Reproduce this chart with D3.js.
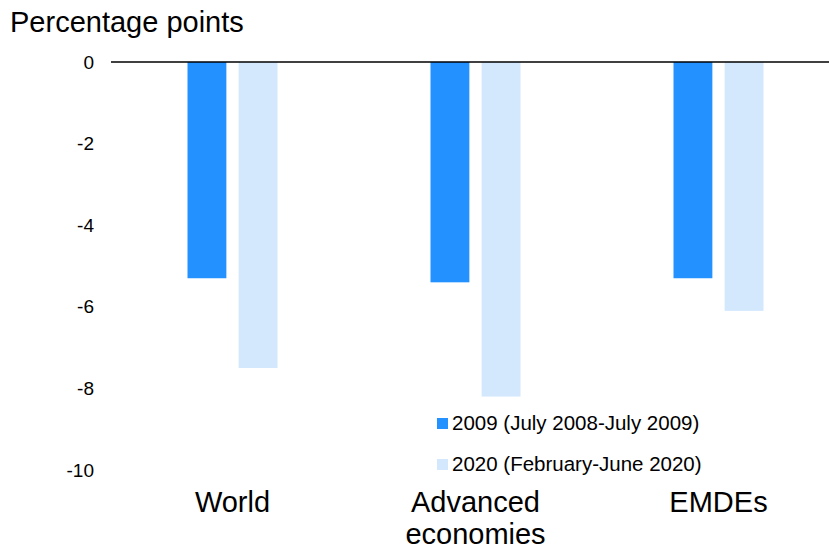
<!DOCTYPE html>
<html>
<head>
<meta charset="utf-8">
<script src="https://cdn.jsdelivr.net/npm/d3@7"></script>
<style>
  html, body { margin: 0; padding: 0; background: #fff; }
  svg { display: block; font-family: "Liberation Sans", Arial, sans-serif; }
</style>
</head>
<body>
<svg id="chart" width="829" height="550"></svg>
<script>
// Change in output (percentage points), by country group
const categories = [["World"], ["Advanced", "economies"], ["EMDEs"]];
const seriesNames = ["2009 (July 2008-July 2009)", "2020 (February-June 2020)"];
const values2009 = [-5.3, -5.4, -5.3];
const values2020 = [-7.5, -8.2, -6.1];
const yTicks = [0, -2, -4, -6, -8, -10];
const colors = ["#2391FF", "#D3E8FD"];

const svg = d3.select("#chart");
const W = 829;

const y = d3.scaleLinear().domain([0, -10]).range([62, 470]);
const x = d3.scaleBand().domain(d3.range(categories.length)).range([111, 840]).paddingInner(0).paddingOuter(0);
const x1 = d3.scaleBand().domain([0, 1]).range([x.bandwidth() / 2 - 45, x.bandwidth() / 2 + 45]).paddingInner(0.24);

// Axis title
svg.append("text").attr("x", 10).attr("y", 32)
  .attr("font-size", 29).attr("fill", "#000").text("Percentage points");

// Y tick labels
const yAxis = d3.axisLeft(y).tickValues(yTicks).tickSize(0).tickPadding(0).tickFormat(d3.format("d"));
const ya = svg.append("g").attr("transform", "translate(94,0)").call(yAxis);
ya.select(".domain").remove();
ya.selectAll("text").attr("font-size", 19).attr("fill", "#000")
  .attr("font-family", "'Liberation Sans', Arial, sans-serif")
  .text(d => d === 0 ? "0" : "-" + Math.abs(d));

// Bars
const series = [values2009, values2020];
series.forEach((vals, si) => {
  svg.append("g").selectAll("rect").data(vals).join("rect")
    .attr("x", (d, i) => x(i) + x1(si))
    .attr("width", x1.bandwidth())
    .attr("y", y(0))
    .attr("height", d => y(d) - y(0))
    .attr("fill", colors[si]);
});

// Zero line
svg.append("line").attr("x1", 111).attr("x2", W).attr("y1", y(0)).attr("y2", y(0))
  .attr("stroke", "#000").attr("stroke-width", 1.5);

// Category labels
const cat = svg.append("g").selectAll("text").data(categories).join("text")
  .attr("text-anchor", "middle").attr("font-size", 29).attr("fill", "#000")
  .attr("transform", (d, i) => `translate(${x(i) + x.bandwidth() / 2},512)`);
cat.selectAll("tspan").data(d => d).join("tspan")
  .attr("x", 0).attr("dy", (d, j) => j === 0 ? 0 : 32).text(d => d);

// Legend
const leg = svg.append("g").attr("transform", "translate(437,0)");
seriesNames.forEach((name, i) => {
  const cy = 423 + i * 41;
  leg.append("rect").attr("x", 0).attr("y", cy - 5).attr("width", 11).attr("height", 11).attr("fill", colors[i]);
  leg.append("text").attr("x", 15).attr("y", cy + 7).attr("font-size", 20.5).attr("fill", "#000").text(name);
});
</script>
</body>
</html>
